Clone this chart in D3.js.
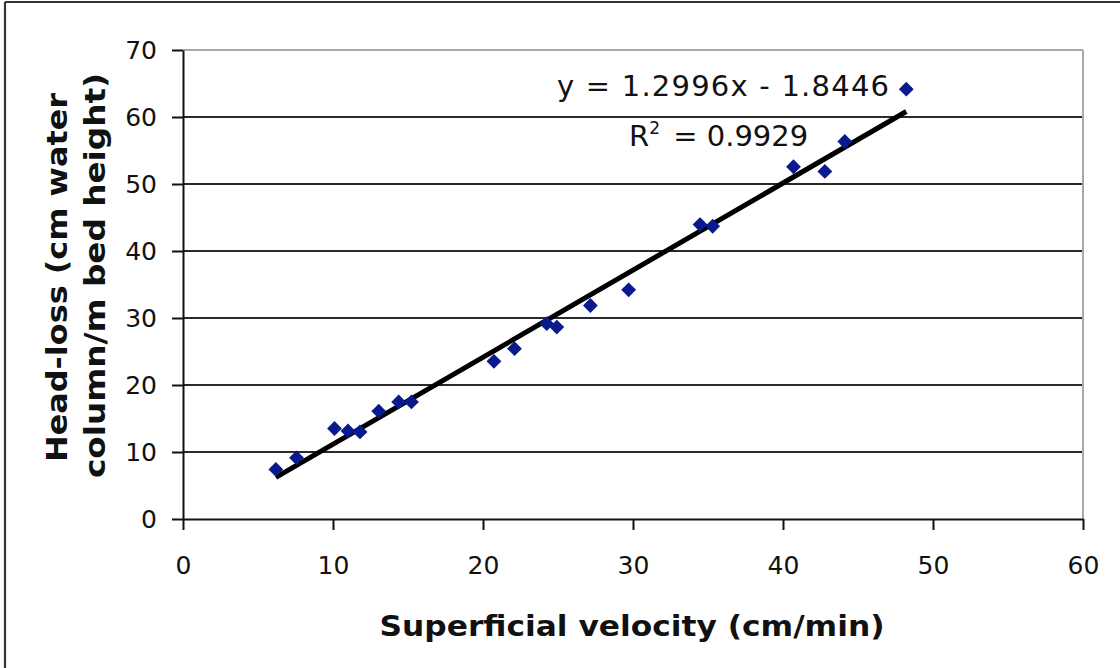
<!DOCTYPE html>
<html>
<head>
<meta charset="utf-8">
<script src="https://cdn.jsdelivr.net/npm/d3@7"></script>
<style>
  html, body { margin: 0; padding: 0; background: #fff; }
  svg { display: block; }
  text { font-family: "DejaVu Sans", Verdana, sans-serif; fill: #111; }
</style>
</head>
<body>
<svg id="chart" width="1120" height="668"></svg>
<script>
// ---- data ----
const velocity = [6.19, 7.57, 10.10, 11.00, 11.80, 13.05, 14.38, 15.23, 20.73, 22.10,
                  24.25, 24.92, 27.16, 29.71, 34.47, 35.31, 40.70, 42.79, 44.12, 48.22];
const headLoss = [7.40, 9.13, 13.51, 13.15, 13.00, 16.09, 17.47, 17.47, 23.53, 25.42,
                  29.15, 28.64, 31.87, 34.21, 43.94, 43.69, 52.58, 51.88, 56.34, 64.15];
const xTicks = [0, 10, 20, 30, 40, 50, 60];
const yTicks = [0, 10, 20, 30, 40, 50, 60, 70];
const trendSlope = 1.2996;
const trendIntercept = -1.8446;
const equationText = "y = 1.2996x - 1.8446";
const r2Value = "0.9929";
const xTitle = "Superficial velocity (cm/min)";
const yTitleLines = ["Head-loss (cm water", "column/m bed height)"];

// ---- layout ----
const svg = d3.select("#chart");
const plotLeft = 183, plotRight = 1083, plotTop = 50, plotBottom = 519;
const x = d3.scaleLinear().domain([0, 60]).range([plotLeft, plotRight]);
const y = d3.scaleLinear().domain([0, 70]).range([plotBottom, plotTop]);

// outer frame (top and left edges visible)
svg.append("line").attr("x1", 5).attr("x2", 1120).attr("y1", 2).attr("y2", 2)
  .attr("stroke", "#333").attr("stroke-width", 2.2);
svg.append("line").attr("x1", 5).attr("x2", 5).attr("y1", 2).attr("y2", 668)
  .attr("stroke", "#333").attr("stroke-width", 2.2);

// gridlines
svg.append("g").selectAll("line")
  .data(yTicks.filter(d => d > 0 && d < 70))
  .join("line")
  .attr("x1", plotLeft).attr("x2", plotRight)
  .attr("y1", d => y(d)).attr("y2", d => y(d))
  .attr("stroke", "#2a2a2a").attr("stroke-width", 2);

// plot-area border (top/right light)
svg.append("line").attr("x1", plotLeft).attr("x2", plotRight).attr("y1", y(70)).attr("y2", y(70))
  .attr("stroke", "#a8a8a8").attr("stroke-width", 2);
svg.append("line").attr("x1", plotRight).attr("x2", plotRight).attr("y1", y(70)).attr("y2", y(0))
  .attr("stroke", "#a8a8a8").attr("stroke-width", 2);

// axes
const xAxis = d3.axisBottom(x).tickValues(xTicks).tickSize(11).tickPadding(26).tickSizeOuter(0);
const yAxis = d3.axisLeft(y).tickValues(yTicks).tickSize(11).tickPadding(15).tickSizeOuter(0);

const gx = svg.append("g").attr("transform", `translate(0,${plotBottom})`).call(xAxis);
const gy = svg.append("g").attr("transform", `translate(${plotLeft},0)`).call(yAxis);
[gx, gy].forEach(g => {
  g.select(".domain").attr("stroke", "#111").attr("stroke-width", 2);
  g.selectAll(".tick line").attr("stroke", "#111").attr("stroke-width", 2);
  g.selectAll(".tick text").attr("font-size", 25).attr("fill", "#111")
    .attr("font-family", "'DejaVu Sans', Verdana, sans-serif");
});

// trend line
const xMin = d3.min(velocity), xMax = d3.max(velocity);
svg.append("line")
  .attr("x1", x(xMin)).attr("y1", y(trendSlope * xMin + trendIntercept))
  .attr("x2", x(xMax)).attr("y2", y(trendSlope * xMax + trendIntercept))
  .attr("stroke", "#000").attr("stroke-width", 5).attr("stroke-linecap", "butt");

// markers (diamonds = rotated squares)
const pts = velocity.map((v, i) => ({ v, h: headLoss[i] }));
svg.append("g").selectAll("path")
  .data(pts)
  .join("path")
  .attr("d", d3.symbol().type(d3.symbolSquare).size(110))
  .attr("transform", d => `translate(${x(d.v)},${y(d.h)}) rotate(45)`)
  .attr("fill", "#0a1a8c");

// equation labels
svg.append("text").attr("x", 557).attr("y", 96)
  .attr("font-size", 29)
  .attr("textLength", 332).attr("lengthAdjust", "spacing")
  .text(equationText);
const r2 = svg.append("text").attr("x", 629).attr("y", 146).attr("font-size", 29);
r2.append("tspan").text("R");
r2.append("tspan").attr("font-size", 17).attr("dy", -12).text("2");
r2.append("tspan").attr("dy", 12).attr("dx", 4).text(" = " + r2Value);

// axis titles
svg.append("text").attr("x", 632).attr("y", 636)
  .attr("text-anchor", "middle").attr("font-weight", "bold").attr("font-size", 28)
  .attr("textLength", 505).attr("lengthAdjust", "spacingAndGlyphs")
  .text(xTitle);

const yTitleBaselines = [67, 105];
const yTitleLengths = [369, 405];
const yTitleCenters = [277.5, 275.5];
yTitleLines.forEach((t, i) => {
  svg.append("text")
    .attr("transform", `translate(${yTitleBaselines[i]},${yTitleCenters[i]}) rotate(-90)`)
    .attr("text-anchor", "middle").attr("font-weight", "bold").attr("font-size", 28)
    .attr("textLength", yTitleLengths[i]).attr("lengthAdjust", "spacingAndGlyphs")
    .text(t);
});
</script>
</body>
</html>
